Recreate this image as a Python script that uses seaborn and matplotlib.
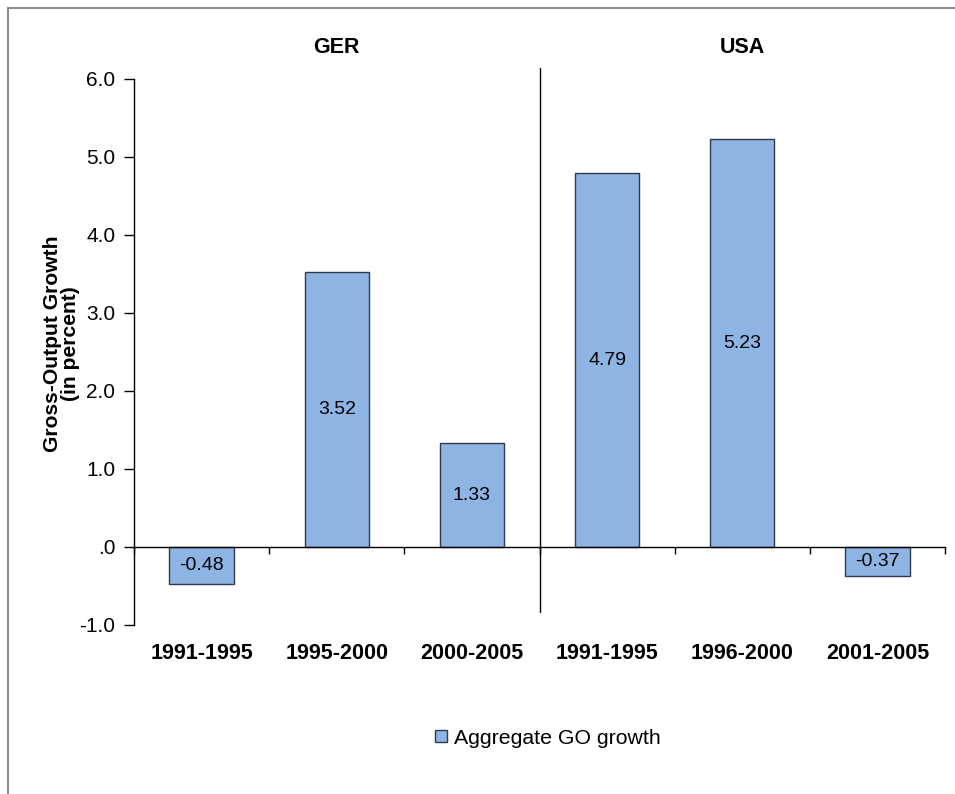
import matplotlib.pyplot as plt
import matplotlib.patches as mpatches
import seaborn as sns
import pandas as pd

countries = ["GER", "GER", "GER", "USA", "USA", "USA"]
periods = ["1991-1995", "1995-2000", "2000-2005",
           "1991-1995", "1996-2000", "2001-2005"]
go_growth = [-0.48, 3.52, 1.33, 4.79, 5.23, -0.37]
ytick_values = [-1, 0, 1, 2, 3, 4, 5, 6]
ytick_labels = ["-1.0", ".0", "1.0", "2.0", "3.0", "4.0", "5.0", "6.0"]
group_names = ["GER", "USA"]

df = pd.DataFrame({
    "slot": [c + " " + p for c, p in zip(countries, periods)],
    "period": periods,
    "growth": go_growth,
})

sns.set_style("white")
plt.rcParams['font.family'] = ['Liberation Sans', 'DejaVu Sans']
plt.rcParams['text.color'] = 'black'
plt.rcParams['axes.labelcolor'] = 'black'
plt.rcParams['xtick.color'] = 'black'
plt.rcParams['ytick.color'] = 'black'

fig = plt.figure(figsize=(9.55, 7.94), dpi=100)
ax = fig.add_axes([134/955, 1 - 625/794, 811/955, 546/794])

bar_color = "#8EB4E3"
edge_color = "#2E3A4C"
sns.barplot(data=df, x="slot", y="growth", color=bar_color, width=0.475,
            edgecolor=edge_color, linewidth=1.0, saturation=1, ax=ax)

for i, v in enumerate(go_growth):
    ax.text(i, v / 2, f"{v:.2f}", ha='center', va='center', fontsize=14)

ax.set_xlim(-0.5, len(go_growth) - 0.5)
ax.set_ylim(-1, 6)
ax.set_yticks(ytick_values)
ax.set_yticklabels(ytick_labels, fontsize=15)

# x axis sits on zero, labels pushed below the plot
ax.spines['top'].set_visible(False)
ax.spines['right'].set_visible(False)
ax.spines['bottom'].set_position(('data', 0))
for side in ['bottom', 'left']:
    ax.spines[side].set_color('black')
    ax.spines[side].set_linewidth(1.0)

ax.set_xticks(range(len(periods)))
ax.set_xticklabels(periods, fontsize=15.5, fontweight='bold')
ax.set_xticks([i - 0.5 for i in range(len(periods) + 1)], minor=True)
ax.tick_params(axis='x', which='major', bottom=True, length=0, pad=69)
ax.tick_params(axis='x', which='minor', bottom=True, length=5,
               direction='out', color='black', width=1.0)
ax.tick_params(axis='y', left=True, length=7, direction='out',
               color='black', width=1.0, pad=6.5)
ax.set_xlabel("")

ax.set_ylabel("Gross-Output Growth\n(in percent)", fontsize=15.2,
              fontweight='bold', linespacing=0.9)
ax.yaxis.set_label_coords((80 - 134) / 811, (625 - 344) / 546)

# divider between countries
ax.axvline(2.5, ymin=(1 - 0.83) / 7, ymax=(1 + 6.14) / 7, color='black',
           linewidth=1.0, clip_on=False)

for k, name in enumerate(group_names):
    ax.text(1 + 3 * k, 6.41, name, ha='center', va='center',
            fontsize=15.5, fontweight='bold')

handle = mpatches.Patch(facecolor=bar_color, edgecolor=edge_color,
                        linewidth=1.0, label="Aggregate GO growth")
fig.legend(handles=[handle], loc='center', bbox_to_anchor=(548/955, 1 - 738/794),
           frameon=False, fontsize=15.3, handlelength=0.55, handleheight=0.55,
           handletextpad=0.35)

frame = mpatches.Rectangle((8/955, -0.1), 1.2, 1 - 8/794 + 0.1,
                           transform=fig.transFigure, fill=False,
                           edgecolor='#8C8C8C', linewidth=1.5)
fig.patches.append(frame)

fig.savefig("out.png", dpi=100)
